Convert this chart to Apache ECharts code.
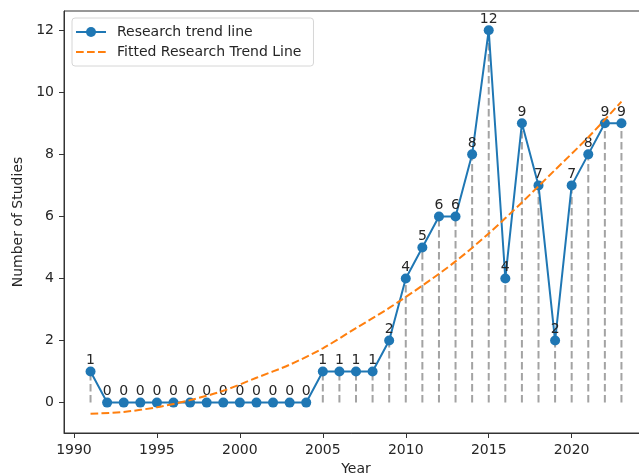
<!DOCTYPE html>
<html>
<head>
<meta charset="utf-8">
<script src="https://cdn.jsdelivr.net/npm/echarts@6/dist/echarts.min.js"></script>
<style>
  html, body { margin: 0; padding: 0; background: #fff; }
  #chart { width: 639px; height: 475px; }
</style>
</head>
<body>
<div id="chart"></div>
<script>
// study counts per year
const years = [1991, 1992, 1993, 1994, 1995, 1996, 1997, 1998, 1999, 2000, 2001, 2002, 2003, 2004,
  2005, 2006, 2007, 2008, 2009, 2010, 2011, 2012, 2013, 2014, 2015, 2016, 2017, 2018, 2019, 2020,
  2021, 2022, 2023];
const counts = [1, 0, 0, 0, 0, 0, 0, 0, 0, 0, 0, 0, 0, 0,
  1, 1, 1, 1, 2, 4, 5, 6, 6, 8, 12, 4, 9, 7, 2, 7,
  8, 9, 9];

// fitted trend
const fitYears = [1991, 1993, 1995, 1997, 1999, 2001, 2003, 2005, 2007, 2009, 2011, 2013, 2015, 2017, 2019, 2021, 2023];
const fitValues = [-0.36, -0.3, -0.15, 0.08, 0.38, 0.8, 1.22, 1.75, 2.4, 3.05, 3.77, 4.55, 5.45, 6.45, 7.5, 8.55, 9.7];

const xTicks = [1990, 1995, 2000, 2005, 2010, 2015, 2020];
const yTicks = [0, 2, 4, 6, 8, 10, 12];

const font = 'DejaVu Sans';
const txt = '#262626';
const dash = [7.7, 3.3];

const pairs = years.map((y, i) => [y, counts[i]]);
const fitPairs = fitYears.map((y, i) => [y, fitValues[i]]);

const chart = echarts.init(document.getElementById('chart'));

const option = {
  animation: false,
  textStyle: { fontFamily: font },
  grid: {
    left: 64, top: 11, width: 584, height: 422,
    containLabel: false,
    outerBoundsMode: 'none',
    show: true, borderColor: '#333', borderWidth: 1
  },
  legend: {
    left: 72, top: 18,
    orient: 'vertical',
    padding: [7, 12, 7, 3],
    itemGap: 6,
    itemWidth: 30, itemHeight: 12.5,
    borderColor: '#d6d6d6', borderWidth: 1, borderRadius: 3,
    textStyle: { fontSize: 14, color: txt, fontFamily: font, padding: [0, 0, 0, 6] },
    data: [
      { name: 'Research trend line' },
      {
        name: 'Fitted Research Trend Line',
        itemStyle: { opacity: 0 },
        lineStyle: { type: dash, width: 2, color: '#ff7f0e' }
      }
    ]
  },
  xAxis: {
    type: 'value',
    min: 1989.4, max: 2024.6,
    name: 'Year',
    nameLocation: 'middle',
    nameGap: 29,
    nameTextStyle: { fontSize: 14, color: txt, fontFamily: font },
    splitLine: { show: false },
    axisLine: { show: true, onZero: false, lineStyle: { color: '#333' } },
    axisTick: { show: true, length: 5, customValues: xTicks, lineStyle: { color: '#333' } },
    axisLabel: {
      customValues: xTicks, fontSize: 14, color: txt, margin: 10, fontFamily: font,
      formatter: v => String(v)
    }
  },
  yAxis: {
    type: 'value',
    min: -0.98, max: 12.62,
    name: 'Number of Studies',
    nameLocation: 'middle',
    nameGap: 34,
    nameTextStyle: { fontSize: 14, color: txt, fontFamily: font },
    splitLine: { show: false },
    axisLine: { show: true, onZero: false, lineStyle: { color: '#333' } },
    axisTick: { show: true, length: 5, customValues: yTicks, lineStyle: { color: '#333' } },
    axisLabel: { customValues: yTicks, fontSize: 14, color: txt, margin: 10, fontFamily: font }
  },
  series: [
    {
      // dashed stems from zero to each count
      type: 'custom',
      z: 1,
      silent: true,
      data: pairs,
      renderItem: function (params, api) {
        const x = api.value(0);
        const v = api.value(1);
        const p0 = api.coord([x, 0]);
        const p1 = api.coord([x, v]);
        return {
          type: 'line',
          shape: { x1: p0[0], y1: p0[1], x2: p1[0], y2: p1[1] },
          style: { stroke: '#a3a3a3', lineWidth: 2, lineDash: dash }
        };
      }
    },
    {
      name: 'Research trend line',
      type: 'line',
      z: 3,
      data: pairs,
      symbol: 'circle',
      symbolSize: 10,
      color: '#1f77b4',
      lineStyle: { width: 2, color: '#1f77b4' },
      itemStyle: { color: '#1f77b4' },
      label: {
        show: true, position: 'top', distance: -1,
        fontSize: 14, color: txt, fontFamily: font
      }
    },
    {
      name: 'Fitted Research Trend Line',
      type: 'line',
      z: 4,
      data: fitPairs,
      smooth: 0.3,
      symbol: 'none',
      color: '#ff7f0e',
      lineStyle: { width: 2, color: '#ff7f0e', type: dash }
    }
  ]
};

chart.setOption(option);
</script>
</body>
</html>
